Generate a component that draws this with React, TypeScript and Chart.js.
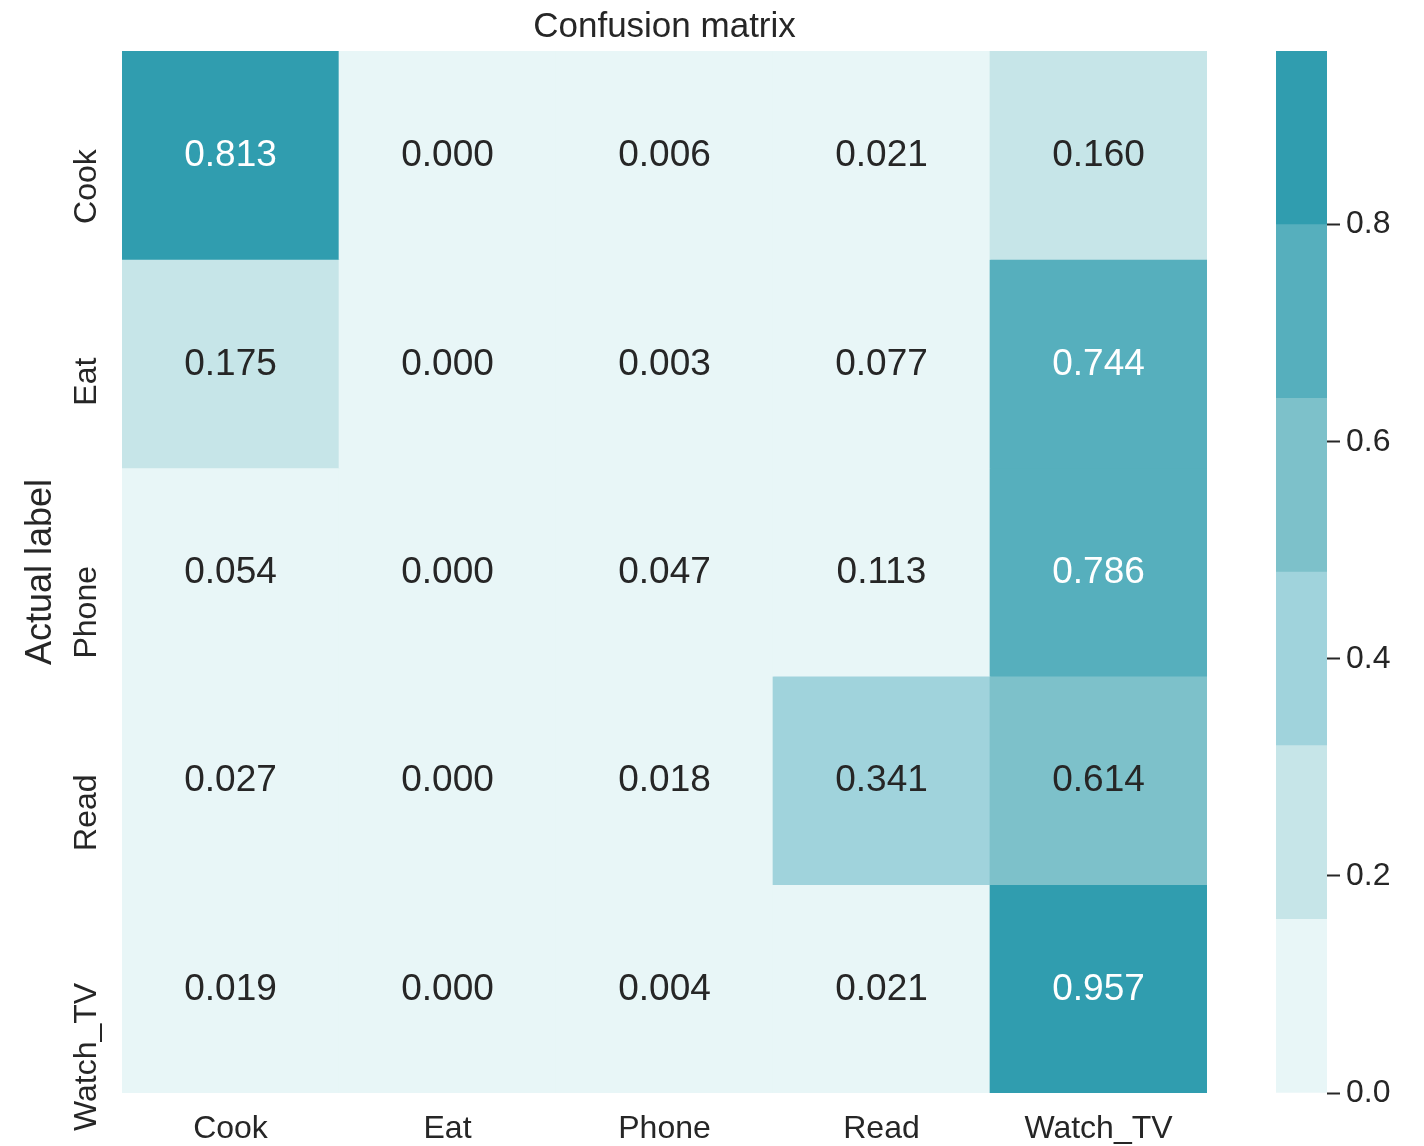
import React, { useEffect, useRef } from "react";
import { Chart, registerables } from "chart.js";

Chart.register(...registerables);

const columnLabels = ["Cook", "Eat", "Phone", "Read", "Watch_TV"];
const rowLabels = ["Cook", "Eat", "Phone", "Read", "Watch_TV"];

const cookRow = [0.813, 0.0, 0.006, 0.021, 0.16];
const eatRow = [0.175, 0.0, 0.003, 0.077, 0.744];
const phoneRow = [0.054, 0.0, 0.047, 0.113, 0.786];
const readRow = [0.027, 0.0, 0.018, 0.341, 0.614];
const watchRow = [0.019, 0.0, 0.004, 0.021, 0.957];
const matrixRows = [cookRow, eatRow, phoneRow, readRow, watchRow];

const colorBounds = [0, 0.16, 0.32, 0.48, 0.64, 0.8, 0.96];
const binColors = ["#E8F6F7", "#C6E5E8", "#A0D3DC", "#7DC1CA", "#56AFBD", "#309DAF"];
const binTextColors = ["#262626", "#262626", "#262626", "#262626", "#FFFFFF", "#FFFFFF"];
const colorbarTicks = [0, 0.2, 0.4, 0.6, 0.8];

const titleText = "Confusion matrix";
const yAxisTitle = "Actual label";

const FONT = "'Liberation Sans', Arial, Helvetica, sans-serif";
const TEXT = "#262626";

function binOf(v: number): number {
  for (let i = 0; i < binColors.length; i++) {
    if (v < colorBounds[i + 1]) return i;
  }
  return binColors.length - 1;
}

export default function App() {
  const mainRef = useRef<HTMLCanvasElement>(null);
  const barRef = useRef<HTMLCanvasElement>(null);

  useEffect(() => {
    const textPlugin = {
      id: "heatText",
      afterDatasetsDraw(chart: any) {
        const ctx = chart.ctx;
        const xs = chart.scales.x;
        const ys = chart.scales.y;
        ctx.save();
        // annotations
        ctx.font = `37px ${FONT}`;
        ctx.textAlign = "center";
        ctx.textBaseline = "alphabetic";
        chart.data.datasets.forEach((ds: any, ri: number) => {
          const meta = chart.getDatasetMeta(ri);
          meta.data.forEach((el: any, ci: number) => {
            const v = matrixRows[ri][ci];
            const cy = (el.y + el.base) / 2;
            ctx.fillStyle = binTextColors[binOf(v)];
            ctx.fillText(v.toFixed(3), el.x, cy + 11);
          });
        });
        // x tick labels
        ctx.fillStyle = TEXT;
        ctx.font = `32px ${FONT}`;
        columnLabels.forEach((lab, i) => {
          ctx.fillText(lab, xs.getPixelForValue(i), 1138);
        });
        // y tick labels (rotated)
        rowLabels.forEach((lab, i) => {
          const y = ys.getPixelForValue(i + 0.5);
          ctx.save();
          ctx.translate(96, y - 6);
          ctx.rotate(-Math.PI / 2);
          ctx.textAlign = "right";
          ctx.fillText(lab, 0, 0);
          ctx.restore();
        });
        // y axis title
        ctx.save();
        ctx.font = `36px ${FONT}`;
        ctx.translate(51, (chart.chartArea.top + chart.chartArea.bottom) / 2);
        ctx.rotate(-Math.PI / 2);
        ctx.textAlign = "center";
        ctx.fillText(yAxisTitle, 0, 0);
        ctx.restore();
        // title
        ctx.font = `35px ${FONT}`;
        ctx.textAlign = "center";
        ctx.fillText(titleText, (chart.chartArea.left + chart.chartArea.right) / 2, 37);
        ctx.restore();
      },
    };

    const main = new Chart(mainRef.current as HTMLCanvasElement, {
      type: "bar",
      data: {
        labels: columnLabels,
        datasets: rowLabels.map((r, ri) => ({
          label: r,
          data: columnLabels.map(() => [ri, ri + 1]),
          backgroundColor: matrixRows[ri].map((v) => binColors[binOf(v)]),
          borderWidth: 0,
          grouped: false,
          barPercentage: 1,
          categoryPercentage: 1,
        })) as any,
      },
      options: {
        responsive: false,
        animation: false,
        events: [],
        layout: { padding: { left: 122, right: 33, top: 51, bottom: 53 } },
        plugins: { legend: { display: false }, tooltip: { enabled: false }, title: { display: false } },
        scales: {
          x: { type: "category", display: false, offset: true },
          y: { type: "linear", display: false, min: 0, max: rowLabels.length, reverse: true },
        },
      },
      plugins: [textPlugin],
    });

    const bar = new Chart(barRef.current as HTMLCanvasElement, {
      type: "bar",
      data: {
        labels: ["cb"],
        datasets: binColors.map((c, i) => ({
          label: "bin" + i,
          data: [[colorBounds[i], colorBounds[i + 1]]],
          backgroundColor: c,
          borderWidth: 0,
          grouped: false,
          barPercentage: 1,
          categoryPercentage: 1,
        })) as any,
      },
      options: {
        responsive: false,
        animation: false,
        events: [],
        layout: { padding: { left: 36, right: 0, top: 51, bottom: 53 } },
        plugins: { legend: { display: false }, tooltip: { enabled: false } },
        scales: {
          x: { type: "category", display: false },
          y: {
            type: "linear",
            position: "right",
            min: colorBounds[0],
            max: colorBounds[colorBounds.length - 1],
            border: { display: false },
            grid: {
              drawOnChartArea: false,
              drawTicks: true,
              tickLength: 13,
              tickColor: TEXT,
              tickWidth: 2,
            },
            afterBuildTicks: (scale: any) => {
              scale.ticks = colorbarTicks.map((v) => ({ value: v }));
            },
            afterFit: (scale: any) => {
              scale.width = 97;
            },
            ticks: {
              padding: 6,
              color: TEXT,
              font: { family: FONT, size: 32 },
              callback: (v: any) => Number(v).toFixed(1),
            },
          },
        },
      },
    });

    return () => {
      main.destroy();
      bar.destroy();
    };
  }, []);

  return (
    <div style={{ position: "absolute", left: 0, top: 0, width: 1424, height: 1146, background: "#ffffff" }}>
      <canvas ref={mainRef} width={1240} height={1146} style={{ position: "absolute", left: 0, top: 0 }} />
      <canvas ref={barRef} width={184} height={1146} style={{ position: "absolute", left: 1240, top: 0 }} />
    </div>
  );
}
